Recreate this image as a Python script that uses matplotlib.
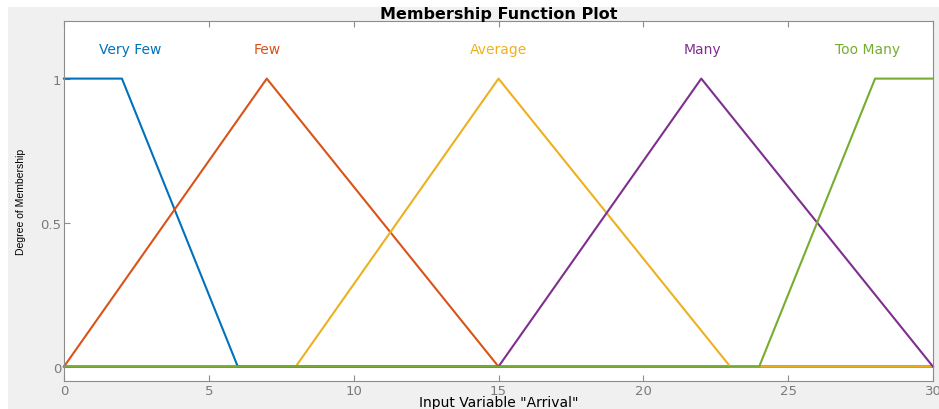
import matplotlib
matplotlib.use("Agg")
import matplotlib.pyplot as plt
import numpy as np

plt.rcParams['font.family'] = ['DejaVu Sans']

# membership functions of the "Arrival" input, breakpoints (x, mu)
names = ["Very Few", "Few", "Average", "Many", "Too Many"]
mf_x = [
    [0, 2, 6, 30],
    [0, 7, 15, 30],
    [0, 8, 15, 23, 30],
    [0, 15, 22, 30],
    [0, 24, 28, 30],
]
mf_y = [
    [1, 1, 0, 0],
    [0, 1, 0, 0],
    [0, 0, 1, 0, 0],
    [0, 0, 1, 0],
    [0, 0, 1, 1],
]
label_x = [2.3, 7.0, 15.0, 22.05, 27.75]
colors = ["#0072BD", "#D95319", "#EDB120", "#7E2F8E", "#77AC30"]

fig = plt.figure(figsize=(9.39, 4.10), dpi=100)
fig.patch.set_facecolor("white")

# grey window panel behind the axes
bg = fig.add_axes([8 / 939, 0, 1 - 8 / 939, 402 / 410], zorder=-10)
bg.set_facecolor("#f0f0f0")
bg.set_xticks([])
bg.set_yticks([])
for s in bg.spines.values():
    s.set_visible(False)

ax = fig.add_axes([64 / 939, 1 - 382 / 410, (933 - 64) / 939, (382 - 22) / 410], zorder=1)
ax.set_facecolor("white")

for xs, ys, name, lx, c in zip(mf_x, mf_y, names, label_x, colors):
    ax.plot(xs, ys, color=c, lw=1.5, clip_on=False)
    ax.text(lx, 1.104, name, color=c, ha="center", va="center", fontsize=10)

ax.set_xlim(0, 30)
ax.set_ylim(-0.05, 1.2)
ax.set_xticks([0, 5, 10, 15, 20, 25, 30])
ax.set_yticks([0, 0.5, 1])
ax.set_yticklabels(["0", "0.5", "1"])

grey = "#8c8c8c"
for s in ax.spines.values():
    s.set_color(grey)
    s.set_linewidth(0.8)
ax.tick_params(direction="in", length=4, width=0.8, color=grey, labelcolor="#7a7a7a",
               labelsize=9.5, top=True, right=False, pad=2)

ax.set_title("Membership Function Plot", fontsize=11.5, fontweight="bold", pad=2)
ax.set_xlabel('Input Variable "Arrival"', fontsize=10, labelpad=-1)
ax.set_ylabel("Degree of Membership", fontsize=7.5, family="Liberation Sans", labelpad=10)

fig.savefig("out.png", dpi=100, facecolor=fig.get_facecolor())
